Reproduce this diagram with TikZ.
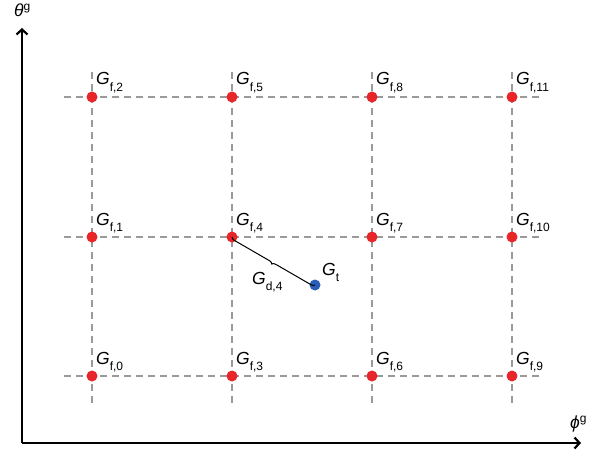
\documentclass[tikz,border=0pt]{standalone}
\usepackage{fontspec}
\setmainfont{Liberation Sans}
\usetikzlibrary{decorations.pathreplacing,arrows.meta}
\definecolor{ptred}{HTML}{E8262A}
\definecolor{ptblue}{HTML}{2A5CB8}
\definecolor{gridgray}{HTML}{9A9A9A}
\newcommand\Gsub[1]{\textit{G}\raisebox{-6.5pt}{\fontsize{12}{12}\selectfont #1}}
\newcommand\Gsup[2]{\textit{#1}\raisebox{6pt}{\fontsize{12}{12}\selectfont #2}}
\begin{document}
\begin{tikzpicture}[x=1pt,y=-1pt,
  grid/.style={draw=gridgray, dash pattern=on 7pt off 5pt, line width=1.1pt},
  fpt/.style={circle, fill=ptred, inner sep=0pt, minimum size=11pt},
  tpt/.style={circle, fill=ptblue, inner sep=0pt, minimum size=11pt},
  lbl/.style={anchor=base west, inner sep=0pt, font=\fontsize{17.5}{17.5}\selectfont},
  axis/.style={line width=2.2pt, -{Straight Barb[length=5pt,width=11pt,line width=2.2pt]}}]
\useasboundingbox (0,0) rectangle (599,457);
% grid lines
\foreach \y/\n in {97/a,237/b,376/c} {
  \coordinate (h\n1) at (64,\y); \coordinate (h\n2) at (540,\y);
  \draw[grid] (h\n1) -- (h\n2);
}
\foreach \x/\n in {92/a,232/b,372/c,512/d} {
  \coordinate (v\n1) at (\x,72); \coordinate (v\n2) at (\x,404);
  \draw[grid] (v\n1) -- (v\n2);
}
% points
\foreach \x [count=\i from 0] in {92,232,372,512} {
  \foreach \y [count=\j from 0] in {376,237,97} {
    \pgfmathtruncatemacro{\k}{3*\i+\j}
    \node[fpt] (f\k) at (\x,\y) {};
    \node[lbl] at ([xshift=4pt,yshift=12pt]f\k.center) {\Gsub{f,\k}};
  }
}
\node[tpt] (t) at (315,285) {};
\node[lbl] at (322,275) {\Gsub{t}};
\draw[line width=1pt, decorate, decoration={brace, mirror, amplitude=3.5pt}] (f4.center) -- (t.center);
\node[lbl] at (252,284) {\Gsub{d,4}};
% axes
\coordinate (o) at (22,443);
\coordinate (ytop) at (22,28);
\coordinate (xend) at (581,443);
\draw[axis] (o) -- (ytop);
\draw[axis] (o) -- (xend);
\node[lbl] (yl) at (14,17) {\Gsup{θ}{g}};
\node[lbl] (xl) at (570,428) {\Gsup{ϕ}{g}};
\end{tikzpicture}
\end{document}
